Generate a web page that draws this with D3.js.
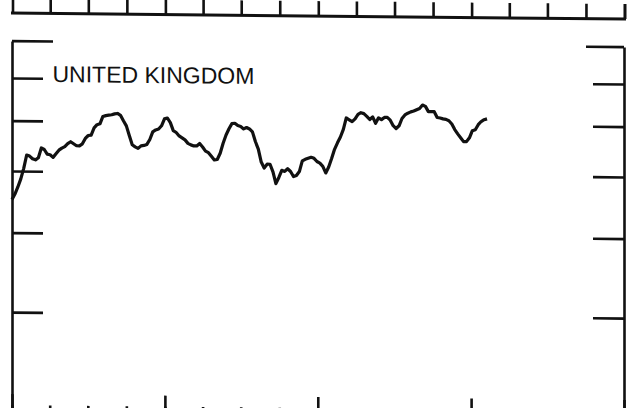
<!DOCTYPE html>
<html>
<head>
<meta charset="utf-8">
<script src="https://cdn.jsdelivr.net/npm/d3@7"></script>
<style>
  body { margin: 0; background: #fff; }
  svg { display: block; }
</style>
</head>
<body>
<div id="chart"></div>
<script>
// panel title
var panelTitle = "UNITED KINGDOM";

// weekly series, first value at the start of the first year
var startDate = new Date(1986, 0, 1);
var weeklyValues = [
  4.51, 4.60, 4.72, 4.86, 5.05, 5.30, 5.28, 5.23, 5.21, 5.25,
  5.44, 5.41, 5.32, 5.31, 5.26, 5.33, 5.40, 5.44, 5.47, 5.53,
  5.57, 5.53, 5.49, 5.49, 5.53, 5.64, 5.70, 5.71, 5.86, 5.93,
  5.95, 6.11, 6.13, 6.14, 6.15, 6.17, 6.18, 6.14, 6.02, 5.91,
  5.71, 5.52, 5.48, 5.45, 5.50, 5.51, 5.53, 5.63, 5.79, 5.83,
  5.85, 5.92, 6.07, 6.09, 5.99, 5.82, 5.78, 5.71, 5.67, 5.63,
  5.56, 5.53, 5.51, 5.51, 5.56, 5.49, 5.41, 5.38, 5.31, 5.24,
  5.25, 5.37, 5.57, 5.74, 5.87, 5.98, 5.99, 5.94, 5.92, 5.87,
  5.90, 5.87, 5.81, 5.61, 5.46, 5.21, 5.10, 5.17, 5.17, 5.03,
  4.82, 4.93, 5.06, 5.04, 5.09, 5.04, 4.95, 4.97, 5.04, 5.24,
  5.27, 5.29, 5.31, 5.29, 5.23, 5.20, 5.14, 5.02, 5.13, 5.29,
  5.47, 5.60, 5.72, 5.88, 6.13, 6.09, 6.05, 6.11, 6.21, 6.25,
  6.23, 6.17, 6.10, 6.16, 6.02, 6.14, 6.10, 6.15, 6.15, 6.09,
  5.97, 5.91, 5.97, 6.13, 6.21, 6.25, 6.28, 6.30, 6.33, 6.36,
  6.44, 6.41, 6.29, 6.29, 6.29, 6.16, 6.15, 6.13, 6.12, 6.09,
  6.02, 5.90, 5.81, 5.73, 5.65, 5.65, 5.73, 5.88, 5.90, 6.01,
  6.08, 6.12, 6.14
];

// log-scale tick values (no labels printed)
var yTicks = [3, 4, 5, 6, 7];
var yTop = 8;
var yBottom = 2;

var svgWidth = 635;
var svgHeight = 408;
var ink = "#111";

var data = weeklyValues.map(function(v, i) {
  return { date: d3.timeDay.offset(startDate, i * 7), value: v };
});

var svg = d3.select("#chart")
  .append("svg")
  .attr("width", svgWidth)
  .attr("height", svgHeight);

// the scanned page is slightly skewed
var page = svg.append("g")
  .attr("transform", "skewY(0.56)");

var x = d3.scaleTime()
  .domain([startDate, d3.timeYear.offset(startDate, 4)])
  .range([12, 624]);

var y = d3.scaleLog()
  .domain([yBottom, yTop])
  .range([424, 41]);

// strip of the panel above
var strip = page.append("g")
  .attr("stroke", ink)
  .attr("fill", "none");

strip.selectAll("line.div")
  .data([startDate].concat(x.ticks(d3.timeMonth.every(3)).slice(1), [x.domain()[1]]))
  .enter()
  .append("line")
  .attr("class", "div")
  .attr("x1", function(d) { return x(d) + 1; })
  .attr("x2", function(d) { return x(d) + 1; })
  .attr("y1", -2)
  .attr("y2", 13)
  .attr("stroke-width", 2.6);

strip.append("line")
  .attr("x1", 11)
  .attr("x2", 626)
  .attr("y1", 13)
  .attr("y2", 13)
  .attr("stroke-width", 3);

// left axis
var leftAxis = d3.axisRight(y)
  .tickValues(yTicks)
  .tickSize(31)
  .tickSizeOuter(0)
  .tickFormat("");

var gLeft = page.append("g")
  .attr("transform", "translate(12,0)")
  .call(leftAxis);

// right axis
var rightAxis = d3.axisLeft(y)
  .tickValues(yTicks)
  .tickSize(31)
  .tickSizeOuter(0)
  .tickFormat("");

var gRight = page.append("g")
  .attr("transform", "translate(624,0)")
  .call(rightAxis);

[gLeft, gRight].forEach(function(g) {
  g.selectAll("path, line")
    .attr("stroke", ink)
    .attr("stroke-width", 2.6);
});

// top frame ticks (longer)
page.append("line")
  .attr("x1", 12).attr("x2", 53)
  .attr("y1", y(yTop)).attr("y2", y(yTop))
  .attr("stroke", ink).attr("stroke-width", 2.6);
page.append("line")
  .attr("x1", 586).attr("x2", 624)
  .attr("y1", y(yTop)).attr("y2", y(yTop))
  .attr("stroke", ink).attr("stroke-width", 2.6);

// bottom time ticks
var quarterAxis = d3.axisTop(x)
  .ticks(d3.timeMonth.every(3))
  .tickSize(6)
  .tickSizeOuter(0)
  .tickFormat("");

var yearAxis = d3.axisTop(x)
  .ticks(d3.timeYear.every(1))
  .tickSize(17)
  .tickSizeOuter(0)
  .tickFormat("");

[quarterAxis, yearAxis].forEach(function(ax) {
  var g = page.append("g")
    .attr("transform", "translate(0,411)")
    .call(ax);
  g.select(".domain").remove();
  g.selectAll("line")
    .attr("stroke", ink)
    .attr("stroke-width", 2.6);
});

// panel title
page.append("text")
  .attr("x", 52.5)
  .attr("y", 81.5)
  .attr("font-family", "'Liberation Sans', Arial, sans-serif")
  .attr("font-size", "23px")
  .attr("fill", ink)
  .text(panelTitle);

// series line
var drawLine = d3.line()
  .x(function(d) { return x(d.date); })
  .y(function(d) { return y(d.value); });

page.append("path")
  .datum(data)
  .attr("d", drawLine)
  .attr("fill", "none")
  .attr("stroke", ink)
  .attr("stroke-width", 3.2)
  .attr("stroke-linejoin", "round");
</script>
</body>
</html>
